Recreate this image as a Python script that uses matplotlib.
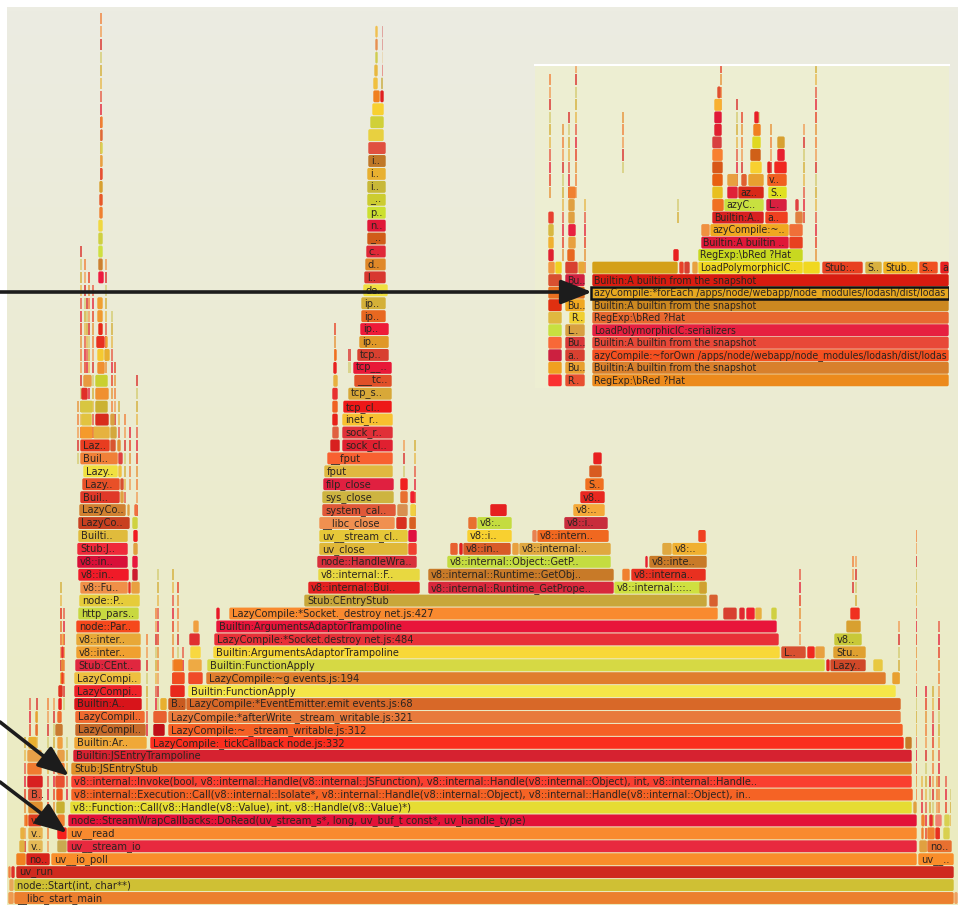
import matplotlib
matplotlib.use("Agg")
import matplotlib.pyplot as plt
from matplotlib.patches import FancyBboxPatch, Rectangle
import numpy as np

# ---------- main flame graph: trunk ----------
trunk_depth = [0,1,2,3,4,5,6,7,8,9,10,11,12,13,14,15,16,17,18,19,20,21,22]
trunk_start = [14,14,16,51,67,67,68,70,71,71,71,73,150,168,168,186,188,206,207,213,214,216,229]
trunk_end = [954,954,954,917,917,917,917,912,913,912,912,912,904,903,901,901,896,886,825,780,779,777,718]
trunk_label = ["__libc_start_main","node::Start(int, char**)","uv_run","uv__io_poll","uv__stream_io","uv__read",
  "node::StreamWrapCallbacks::DoRead(uv_stream_s*, long, uv_buf_t const*, uv_handle_type)",
  "v8::Function::Call(v8::Handle(v8::Value), int, v8::Handle(v8::Value)*)",
  "v8::internal::Execution::Call(v8::internal::Isolate*, v8::internal::Handle(v8::internal::Object), v8::internal::Handle(v8::internal::Object), in..",
  "v8::internal::Invoke(bool, v8::internal::Handle(v8::internal::JSFunction), v8::internal::Handle(v8::internal::Object), int, v8::internal::Handle..",
  "Stub:JSEntryStub","Builtin:JSEntryTrampoline","LazyCompile:_tickCallback node.js:332",
  "LazyCompile:~ _stream_writable.js:312","LazyCompile:*afterWrite _stream_writable.js:321",
  "LazyCompile:*EventEmitter.emit events.js:68","Builtin:FunctionApply","LazyCompile:~g events.js:194",
  "Builtin:FunctionApply","Builtin:ArgumentsAdaptorTrampoline","LazyCompile:*Socket.destroy net.js:484",
  "Builtin:ArgumentsAdaptorTrampoline","LazyCompile:*Socket._destroy net.js:427"]
trunk_color = ["#ec7f2e","#cfc034","#cf2a1e","#f98d2a","#e8293f","#f98a2f","#e31238","#e6dc33","#f56325","#fa3f30",
  "#df8f29","#d62230","#fa2e1e","#f56025","#e87a3c","#d86828","#f5e648","#e07d2d","#d6d944","#f8d838","#e83038","#e8153a","#f98a2f"]

# ---------- left tower ----------
left_depth = [12,13,14,15,16,17,18,19,20,21,22,23,24,25,26,27,28,29,30,31,32,33,34,35]
left_start = [74,75,75,74,74,74,75,76,76,76,78,79,80,78,77,77,78,78,79,80,82,83,80,80]
left_end = [147,146,145,142,142,141,141,141,141,140,139,140,128,129,128,128,128,130,126,120,120,118,118,110]
left_label = ["Builtin:Ar..","LazyCompil..","LazyCompil..","Builtin:A..","LazyCompi..","LazyCompi..","Stub:CEnt..",
  "v8::inter..","v8::inter..","node::Par..","http_pars..","node::P..","v8::Fu..","v8::in..","v8::in..","Stub:J..",
  "Builti..","LazyCo..","LazyCo..","Buil..","Lazy..","Lazy..","Buil..","Laz.."]
left_color = ["#f0a838","#c66a2a","#f06a30","#d8141a","#ee2228","#eec040","#e0273f","#f0a030","#e8a838","#f5481c",
  "#c8d840","#e6cc3a","#f09048","#f01a28","#d80f38","#ef2a3a","#e0bb3c","#c84020","#d08030","#e03828","#e85028","#f0e040","#f08038","#e83c20"]

# ---------- small labeled frames at the bottom left ----------
low_depth = [3,4,5,6,8,15]
low_start = [26,28,28,28,28,168]
low_end = [50,43,43,42,42,186]
low_label = ["no..","v..","v..","v..","B..","B.."]
low_color = ["#d8231b","#e4b956","#e8b450","#dd3a1c","#e0553a","#c85a20"]

# ---------- unlabeled blocks around the left tower ----------
block_depth = [35,35,34,33,32,31,30,30,29,28,27,26,25,24,24,
  36,36,36,37,37,37,38,38,39,39,40,40,41,42,42,43,43,44,45,46,48,49,50,51,52,53,54,55,56,57,58,59,60,
  3,4,4,5,5,6,6,7,7,8,8,9,9,10,10,11,11,12,12,13,13,14,14,15,16,17,17,18,18,19,20,
  13,14,15,16,17,18,19,20,21,22,17,18,
  0,1,2,2,0]
block_start = [110,117,118,118,120,120,127,134,132,133,133,132,132,128,131,
  80,93,110,81,95,110,80,95,81,95,83,95,97,97,104,96,105,98,97,97,98,98,98,98,98,99,99,99,100,100,100,100,100,
  16,19,57,20,57,25,57,28,56,28,56,55,27,57,27,57,27,57,28,55,35,57,35,58,58,60,61,61,62,61,62,
  153,153,160,170,172,173,190,189,193,216,188,188,
  8,9,8,11,954]
block_end = [116,121,123,122,124,124,130,138,138,138,138,138,138,131,140,
  93,110,117,92,109,115,93,108,88,109,92,108,105,104,110,105,108,103,103,103,104,103,103,103,103,103,103,103,103,103,103,103,103,
  26,25,67,25,67,28,65,43,65,42,63,65,43,65,42,65,42,63,37,63,38,62,38,62,63,63,64,64,64,64,64,
  165,167,167,185,185,183,201,200,199,220,203,202,
  14,14,11,15,958]
block_color = ["#d8552f","#e09030","#e04040","#f0c040","#d85030","#e0a040","#e0a040","#f07040","#cfd23e","#f01a20","#e0a040","#e8173f","#cc1c30","#e83020","#e8a040",
  "#f59a2c","#e6b23f","#d4a83c","#e2c340","#d82c1c","#d8a040","#d8c640","#cbb232","#e03028","#f09030","#e89a40","#c9d030","#f09030","#f5c930","#e8b030","#e83020","#f0a030","#e82818","#f09a30","#f0a030","#ee1a3f","#cc8030","#cfe040","#cfd040","#f0d840","#f08030","#e85828","#d8a030","#e85030","#e8a040","#d8d050","#e06838","#f08030",
  "#f08020","#e0b040","#c9aa50","#e8b040","#f5201c","#f07020","#f08030","#e09030","#c8b030","#e06040","#f05a20","#e85030","#d82020","#f07a30","#f07a30","#e8a048","#e8a048","#f0a040","#e8b030","#c87a30","#e87030","#f07030","#e8a030","#e82020","#e03020","#e8a030","#f04020","#e0a040","#f08030","#e83030","#f0a030",
  "#c00f18","#e86030","#e8b030","#e8281c","#f04c20","#f07c20","#f8d840","#e03030","#f0a040","#e81828","#f04a28","#eeaa44",
  "#ee9a50","#e8a858","#f08040","#e03028","#f0a060"]

# ---------- socket close tower ----------
sock_depth = [23,24,25,26,27,27,28,28,29,29,29,30,30,30,31,31,31,32,32,33,34,35,35,36,36,37,37,38,38,39,39,40,40,41,41,42,42,
  43,44,45,46,47,48,49,50,51,52,53,54,55,56,57,58,59,60,61,62,62,63,63,64,64,65,65,66,66,67,67]
sock_start = [304,308,318,317,319,408,319,408,319,396,409,322,397,410,322,400,410,323,400,324,327,330,342,332,342,332,342,332,343,332,348,333,354,333,353,334,357,
  359,360,361,361,363,364,365,366,367,367,367,367,367,367,368,368,368,370,372,373,380,373,381,374,382,375,382,375,382,375,382]
sock_end = [707,420,420,417,408,417,408,417,395,407,416,396,408,416,394,408,415,394,408,393,393,340,393,339,393,338,393,338,392,338,392,338,392,337,392,337,389,
  389,389,386,386,388,386,386,386,386,386,386,386,386,386,386,386,384,384,384,380,384,378,383,378,383,378,383,378,383,378,383]
sock_label = ["Stub:CEntryStub","v8::internal::Bui..","v8::internal::F..","node::HandleWra..","uv_close","","uv__stream_cl..","",
  "__libc_close","","","system_cal..","","","sys_close","","","filp_close","","fput","__fput","","sock_cl..","","sock_r..","",
  "inet_r..","","tcp_cl..","","tcp_s..","","___tc..","","tcp__..","","tcp..",
  "ip..","ip..","ip..","ip..","de..","l..","d..","c..","_..","n..","p..","_..","i..","i..","i..","","","","","","","","","","","","","","","",""]
sock_color = ["#c8a73a","#e42020","#e8d840","#d8303c","#e0b838","#f04030","#e6c838","#e0103f","#f09050","#d83020","#d86020","#e05838","#d89050","#f0d040","#cdb440","#e87030","#f02030","#e02040","#f02020","#e0b840","#f86030","#d82020","#e02030","#e06040","#e03038","#e82018","#f8c030","#f06020","#ee1818","#e83030","#d8a838","#e8b040","#e05028","#e82020","#e81838","#f07020","#d84030",
  "#e09828","#ee1a38","#e86820","#d4b038","#f0e040","#d83830","#e08828","#e02838","#d05c18","#e01838","#cce030","#cccc30","#c8b838","#e8b030","#c07828","#e05040","#e8d040","#d0d038","#f8d030","#f08020","#e02020","#f0c040","#c8a838","#e8b840","#e02020","#d0cc50","#e8c080","#e89050","#d04040","#f0c050","#d04040"]

# ---------- GetProperty towers ----------
prop_depth = [24,24,25,25,25,26,26,26,27,27,27,27,27,27,27,28,28,28,28,29,29,29,30,30,31,32,33,34]
prop_start = [428,614,428,622,631,447,649,645,450,459,463,512,519,662,672,467,537,698,532,468,477,564,490,573,580,585,589,593]
prop_end = [614,707,614,630,706,611,707,648,458,463,511,519,611,672,707,512,609,706,537,477,512,608,507,605,605,604,602,602]
prop_label = ["v8::internal::Runtime_GetPrope..","v8::internal::::..","v8::internal::Runtime::GetObj..","","v8::interna..",
  "v8::internal::Object::GetP..","v8::inte..","","","","v8::in..","","v8::internal:..","","v8:..","v8::i..","v8::intern..","","",
  "","v8:..","v8::i..","","v8:..","v8..","S..","",""]
prop_color = ["#d8283c","#cfe040","#c87a28","#f08030","#e83020","#c4dc40","#c87a28","#e82030","#e86030","#e02020","#d85a28","#e8a040","#e0a840","#e0a840","#f0b030","#f8d030","#f06820","#f04020","#e88050","#e87030","#c4dc40","#c82c3c","#e62020","#f5a838","#e82820","#f07020","#d85a20","#e82020"]

# ---------- right side ----------
right_depth = [3,4,4,5,5,5,5,6,6,6,6,7,12,17,18,18,19,19,19,20,21,22,22,22,22,22,22,23,24,
  18,19]
right_start = [918,919,927,921,927,935,943,921,929,935,944,913,905,892,826,830,781,807,815,834,846,850,723,739,746,755,771,709,699,
  873,833]
right_end = [954,927,952,924,935,940,950,925,933,942,950,917,912,900,830,866,806,815,825,862,861,860,737,745,755,762,777,718,707,
  883,866]
right_label = ["uv__..","","no..","","","","","","","","","","","","","Lazy..","L..","","","v8..","","","","","","","","","","","Stu.."]
right_color = ["#f98d2a","#e0a040","#e87030","#f08030","#f08030","#e83020","#d8d050","#f08030","#e83030","#f08070","#d8d050","#e0a040","#c87a28","#e8a030","#e02020","#d04828","#d85030","#f02820","#e8a040","#c8c838","#d8a030","#f03020","#d84030","#e02830","#f02030","#e8b040","#d0d040","#d86030","#d0a030","#e8c840","#e0a030"]

# ---------- thin one-frame-wide columns: start, end, first depth, last depth ----------
spike_start = [80,84,88,92,100.5,105,111,136,129,124.5,29,36,47,53,60,63,157,172,177,146,155,182,
  334,334,403,414,348,799,898,916,925,932,938,950,852,855,700,
  921,929,936,945,60,66,24,114,118,77,86]
spike_end = [82,86,90,94,102.5,107,113,138,131,126.5,31,38,49,55,62,65,159,174,179,148,157,184,
  336,336,405,416,351,801,900,917.5,927,934,940,951.5,854,857,702,
  923,931,938,947,62,68,26,116,120,79,88]
spike_lo = [36,38,37,36,53,41,38,30,32,31,12,12,4,7,18,15,13,17,19,13,13,16,
  24,42,29,29,41,20,17,8,4,4,4,6,24,18,24,
  7,7,7,7,15,8,4,36,35,34,40]
spike_hi = [50,49,48,47,68,49,45,40,36,37,15,15,15,15,24,22,25,25,24,20,22,19,
  38,44,35,35,42,25,21,28,16,16,21,8,26,26,26,
  9,9,9,9,22,12,12,41,38,38,46]
spike_palette = ["#e8705a","#e8a050","#dc4a44","#e8c060","#e85a40","#f0a868","#d8b850","#e64050","#f09050","#d8d080"]

# ---------- inset ----------
inset_depth = [0,1,2,3,4,5,6,7,8,0,1,2,3,4,5,6,7,8,0,1,2,3,4,5,6,7,8,
  9,9,9,9,9,9,9,9,9,9,9,9,9,9,9,
  10,10,11,11,12,12,12,13,13,13,14,14,14,14,15,15,15,15,16,16,16,16,16,17,17,17,17,18,18,18,19,19,19,20,20,21,21,22,23,
  10,10,11,11,12,12,13,13,14,15]
inset_start = [592,592,592,592,592,592,592,592,592,565,565,565,565,565,569,565,565,565,548,548,548,548,548,548,548,548,548,
  592,679,684,692,698,803,822,865,883,919,940,548,555,565,578,
  698,673,701,789,701,710,789,712,765,795,712,724,766,795,712,727,738,768,712,727,741,748,767,712,750,767,774,712,750,777,712,752,777,714,753,714,754,714,717,
  567,548,568,548,568,548,548,568,568,568]
inset_end = [949,949,949,949,949,949,949,949,949,585,585,585,585,585,585,585,585,585,562,562,562,562,562,562,562,562,562,
  678,684,690,698,803,820,863,882,918,938,949,555,562,578,585,
  803,679,789,803,710,789,803,764,788,803,724,764,787,799,723,738,764,787,723,738,747,764,787,723,762,771,787,723,761,785,722,761,785,722,761,722,759,722,721,
  575,554,576,554,576,554,554,575,575,576]
inset_label = ["RegExp:\\bRed ?Hat","Builtin:A builtin from the snapshot","azyCompile:~forOwn /apps/node/webapp/node_modules/lodash/dist/lodas",
  "Builtin:A builtin from the snapshot","LoadPolymorphicIC:serializers","RegExp:\\bRed ?Hat","Builtin:A builtin from the snapshot",
  "azyCompile:*forEach /apps/node/webapp/node_modules/lodash/dist/lodas","Builtin:A builtin from the snapshot",
  "R..","Bu..","a..","Bu..","L..","R..","Bu..","","Bu..","","","","","","","","","",
  "","","","","LoadPolymorphicIC..","","Stub:..","S..","Stub..","S..","a","","","","",
  "RegExp:\\bRed ?Hat","","Builtin:A builtin ..","","","azyCompile:~..","","Builtin:A..","a..","","","azyC..","L..","",
  "","","az..","S..","","","","","v..","","","","","","","","","","","","","","","","","","","","","","","","","",""]
inset_color = ["#ec8a1c","#d8802c","#f55020","#e84838","#e62040","#e86830","#cc8820","#e6a820","#d81c10",
  "#e85030","#e8a030","#d84030","#d83838","#d8a040","#f0d030","#f0a820","#e07020","#d02040",
  "#fa3030","#f0a020","#cc2040","#f86838","#c8e040","#e0b840","#e03010","#e87020","#d85030",
  "#d4a018","#e84028","#d84030","#e8a040","#f0d820","#f0d820","#e84020","#d8b040","#f0b020","#f05020","#e82020","#f09840","#f0d020","#d84030","#e8a838",
  "#c8d820","#e82020","#e01838","#e84020","#f09040","#f0a820","#f07038","#d82020","#f04020","#e08040","#f07020","#c8e040","#d82040","#e04040",
  "#e8c020","#e02038","#d82818","#e0e020","#e86010","#e8a040","#e06030","#e8a030","#f06020","#d85818","#f8d030","#e02020","#f02820",
  "#f88030","#d06018","#e82030","#d84040","#e0d820","#d8a030","#e02030","#f08020","#e01838","#e82028","#f8b030","#e05030",
  "#e86820","#e02030","#e8a040","#f0b030","#e82040","#d8b840","#e84030","#e0a040","#e0a040","#f08030"]
inset_spike_start = [549,562,568,575,584,677,741,758,770,803,815,622,736,720]
inset_spike_end = [551,564,570,577,586,679,743,760,772,805,817,624,738,722]
inset_spike_lo = [15,10,15,15,9,13,17,17,17,13,9,17,16,22]
inset_spike_hi = [24,20,21,25,14,14,21,21,20,20,25,21,22,25]

W, H = 958, 905
PITCH = 12.93
BASE_Y = 898.0
INSET_PITCH = 12.52
INSET_BASE_Y = 380.3
TEXT = "#2b2420"

fig = plt.figure(figsize=(W / 100, H / 100), dpi=100, facecolor="white")
ax = fig.add_axes([0, 0, 1, 1])
ax.set_axis_off()

grad = np.linspace(0, 1, 256)[:, None]
top_c, bot_c = np.array([236, 236, 226]) / 255, np.array([235, 235, 190]) / 255
img = (top_c[None, None, :] * (1 - grad[:, :, None]) + bot_c[None, None, :] * grad[:, :, None])
ax.imshow(img, extent=(7, W, (BASE_Y - H) / PITCH, (BASE_Y - 7) / PITCH), aspect="auto", origin="upper", zorder=0)
ax.set_xlim(0, W)
ax.set_ylim((BASE_Y - H) / PITCH, BASE_Y / PITCH)


def draw_frames(a, depth, start, end, labels, colors, pitch, dx=3.0, fs=7.15):
    for d, s, e, lab, c in zip(depth, start, end, labels, colors, strict=True):
        w = e - s
        if w <= 0:
            continue
        h = 11.9 / pitch
        r = min(1.6, w / 2 - 0.01)
        a.add_patch(FancyBboxPatch((s + 0.3, d - h / 2), w - 0.6, h,
                                   boxstyle=f"round,pad=0,rounding_size={r}",
                                   mutation_aspect=1 / pitch, fc=c, ec="none", zorder=2))
        if lab:
            a.text(s + dx, d - 0.03, lab, fontsize=fs, color=TEXT, va="center", ha="left",
                   family="DejaVu Sans", zorder=3, clip_on=True)


def draw_spikes(a, start, end, lo, hi, pitch, seed=0):
    n = seed
    for s, e, l, u in zip(start, end, lo, hi, strict=True):
        for d in range(l, u + 1):
            a.add_patch(Rectangle((s, d - 5.6 / pitch), e - s, 11.2 / pitch,
                                  fc=spike_palette[n % len(spike_palette)], ec="none", alpha=0.85, zorder=1.5))
            n += 3


draw_spikes(ax, spike_start, spike_end, spike_lo, spike_hi, PITCH)
draw_frames(ax, trunk_depth, trunk_start, trunk_end, trunk_label, trunk_color, PITCH)
draw_frames(ax, left_depth, left_start, left_end, left_label, left_color, PITCH)
draw_frames(ax, block_depth, block_start, block_end, [""] * len(block_depth), block_color, PITCH)
draw_frames(ax, low_depth, low_start, low_end, low_label, low_color, PITCH)
draw_frames(ax, sock_depth, sock_start, sock_end, sock_label, sock_color, PITCH)
draw_frames(ax, prop_depth, prop_start, prop_end, prop_label, prop_color, PITCH)
draw_frames(ax, right_depth, right_start, right_end, right_label, right_color, PITCH)

# inset panel
ax2 = fig.add_axes([535 / W, 1 - 388 / H, 414 / W, 323 / H], zorder=5)
ax2.set_facecolor("#edeed2")
ax2.set_xlim(535, 949)
ax2.set_ylim((INSET_BASE_Y - 388) / INSET_PITCH, (INSET_BASE_Y - 65) / INSET_PITCH)
ax2.set_xticks([]); ax2.set_yticks([])
for k, sp in ax2.spines.items():
    sp.set_visible(k == "top")
ax2.spines["top"].set_color("white")
ax2.spines["top"].set_linewidth(1.5)
draw_spikes(ax2, inset_spike_start, inset_spike_end, inset_spike_lo, inset_spike_hi, INSET_PITCH, seed=1)
draw_frames(ax2, inset_depth, inset_start, inset_end, inset_label, inset_color, INSET_PITCH, dx=2.0, fs=6.85)
ax2.add_patch(Rectangle((591, 7 - 6 / INSET_PITCH), 358, 12 / INSET_PITCH, fc="none", ec="#111111", lw=1.8, zorder=6, clip_on=True))

# arrows on top
ov = fig.add_axes([0, 0, 1, 1], zorder=10)
ov.set_axis_off()
ov.patch.set_alpha(0)
ov.set_xlim(0, W)
ov.set_ylim(H, 0)
arrow_kw = dict(arrowstyle="-|>,head_length=1.9,head_width=0.75", mutation_scale=10, lw=2.6,
                color="#1c1c1c", shrinkA=0, shrinkB=0)
ov.annotate("", xy=(592, 292), xytext=(0, 292), arrowprops=arrow_kw)
ov.annotate("", xy=(69, 776), xytext=(0, 722), arrowprops=arrow_kw)
ov.annotate("", xy=(67, 833), xytext=(0, 782), arrowprops=arrow_kw)

fig.savefig("out.png", dpi=100, facecolor="white")
